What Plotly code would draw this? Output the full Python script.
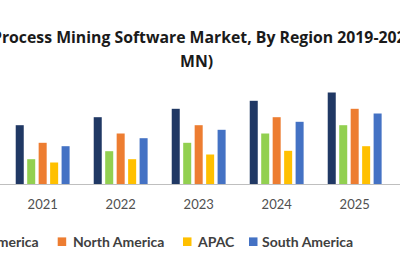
import plotly.graph_objects as go

years = ["2021", "2022", "2023", "2024", "2025"]
europe = [58.8, 66.8, 75.2, 83.2, 91.5]
latin_america = [24.8, 32.8, 41.2, 50.5, 58.8]
north_america = [41.2, 50.5, 58.8, 66.8, 75.2]
apac = [21.5, 24.8, 29.5, 33.2, 37.8]
south_america = [37.8, 45.8, 54.2, 62.2, 70.5]

series_names = ["Europe", "Latin America", "North America", "APAC", "South America"]
series_values = [europe, latin_america, north_america, apac, south_america]
colors = ["#203864", "#92D050", "#ED7D31", "#FFC000", "#4472C4"]

W, H = 400, 266
MT, MB = 70, 82
PH = H - MT - MB
FONT = "Lato"
TFONT = "Open Sans"


def px(x):
    return x / W


def py(y):
    # convert a pixel row (from the top) into paper coordinates
    return (H - MB - y) / PH


fig = go.Figure()
for name, vals, col in zip(series_names, series_values, colors):
    fig.add_trace(go.Bar(x=years, y=vals, name=name, marker=dict(color=col, line=dict(width=0)),
                         showlegend=False))

fig.update_layout(
    width=W, height=H,
    margin=dict(l=0, r=0, t=MT, b=MB, pad=0),
    paper_bgcolor="white", plot_bgcolor="white",
    barmode="group", bargap=0.265, bargroupgap=0.30,
    xaxis=dict(type="category", range=[-0.547, 4.581], showline=True, linecolor="#BFBFBF",
               linewidth=1, showgrid=False, zeroline=False, ticks="",
               tickfont=dict(family=FONT, size=13, color="#505050"), ticklabelstandoff=8),
    yaxis=dict(range=[0, PH], visible=False, showgrid=False, zeroline=False),
    showlegend=False,
)

# title (two lines, first one overflowing the left and right edges as in the reference)
fig.add_annotation(text="<b>Process Mining Software Market, By Region 2019-2027 (USD</b>",
                   x=px(-10), y=py(37), xref="paper", yref="paper",
                   xanchor="left", yanchor="middle", showarrow=False,
                   font=dict(family=TFONT, size=15.8, color="#1A1A1A"))
fig.add_annotation(text="<b>MN)</b>", x=px(196.3), y=py(60.5), xref="paper", yref="paper",
                   xanchor="center", yanchor="middle", showarrow=False,
                   font=dict(family=TFONT, size=15.8, color="#1A1A1A"))

# manual legend (first entries cut off at left edge, as in the reference)
leg_y = 241.7
legend_items = [
    ("Latin America", None, 41, "right"),
    ("North America", 57.7, 71, "left"),
    ("APAC", 183.0, 194.5, "left"),
    ("South America", 249.0, 259.5, "left"),
]
color_map = dict(zip(series_names, colors))
for name, sq_x, tx, anchor in legend_items:
    if sq_x is not None:
        fig.add_shape(type="rect", xref="paper", yref="paper",
                      x0=px(sq_x), x1=px(sq_x + 8.5),
                      y0=py(leg_y + 4.3), y1=py(leg_y - 4.3),
                      fillcolor=color_map[name], line=dict(width=0))
    fig.add_annotation(text="<b>" + name + "</b>", x=px(tx), y=py(leg_y), xref="paper", yref="paper",
                       xanchor=anchor, yanchor="middle", showarrow=False,
                       font=dict(family=FONT, size=14, color="#404040"))

fig.write_html("out.html")
